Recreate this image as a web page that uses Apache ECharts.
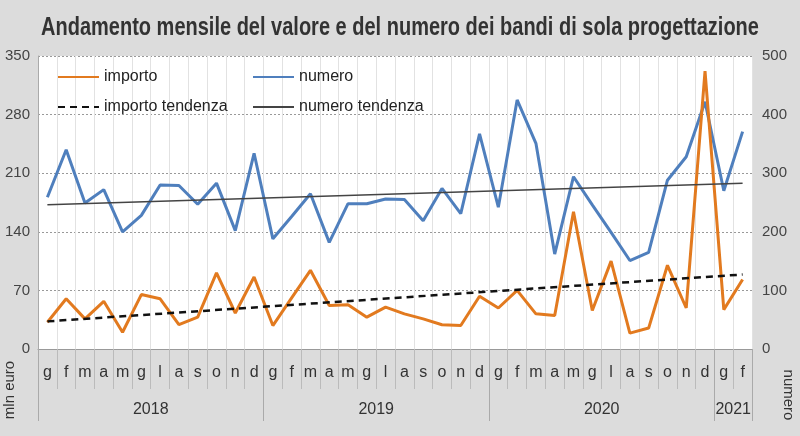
<!DOCTYPE html>
<html>
<head>
<meta charset="utf-8">
<script src="https://cdn.jsdelivr.net/npm/echarts@6/dist/echarts.min.js"></script>
<style>
html,body{margin:0;padding:0;background:#dcdcdc;}
#c{width:800px;height:436px;}
</style>
</head>
<body>
<div id="c"></div>
<script>
const months = ['g','f','m','a','m','g','l','a','s','o','n','d',
                'g','f','m','a','m','g','l','a','s','o','n','d',
                'g','f','m','a','m','g','l','a','s','o','n','d',
                'g','f'];
const years = ['2018','2019','2020','2021'];
const yearCenters = [6, 18, 30, 37];
const yearBounds = [0, 12, 24, 36, 38];
const leftTicks = [0, 70, 140, 210, 280, 350];
const rightTicks = [0, 100, 200, 300, 400, 500];

const importo = [32,60,36,57,20,65,60,29,38,91,43,86,
                 28,61,94,52,53,38,50,42,36,29,28,63,
                 49,70,42,40,164,46,105,19,25,100,49,332,
                 47,83];
const numero = [259,340,249,272,200,228,280,279,247,283,202,334,
                188,226,265,182,248,248,256,255,219,274,231,367,
                242,425,351,162,294,246,199,151,165,288,328,422,
                270,371];
const importoTrend = [33,null,null,null,null,null,null,null,null,null,null,null,
                      null,null,null,null,null,null,null,null,null,null,null,null,
                      null,null,null,null,null,null,null,null,null,null,null,null,
                      null,89];
const numeroTrend = [246,null,null,null,null,null,null,null,null,null,null,null,
                     null,null,null,null,null,null,null,null,null,null,null,null,
                     null,null,null,null,null,null,null,null,null,null,null,null,
                     null,283];

const FONT = '"Liberation Sans", Arial, sans-serif';
const chart = echarts.init(document.getElementById('c'));
const legendText = {fontFamily: FONT, fontSize: 16, color: '#222'};
const legendBase = {itemWidth: 41, itemHeight: 14, itemGap: 5, textStyle: legendText, itemStyle: {opacity: 0}};
chart.setOption({
  backgroundColor: '#dcdcdc',
  animation: false,
  legend: [
    Object.assign({data: ['importo'], left: 52, top: 64}, legendBase),
    Object.assign({data: ['numero'], left: 247, top: 64}, legendBase),
    Object.assign({data: ['importo tendenza'], left: 52, top: 94}, legendBase),
    Object.assign({data: ['numero tendenza'], left: 247, top: 94}, legendBase)
  ],
  grid: {left: 38, right: 48, top: 56, bottom: 87, show: true, backgroundColor: '#ffffff', borderWidth: 0},
  xAxis: [
    {
      type: 'category', data: months, boundaryGap: true, position: 'bottom',
      axisLine: {show: true, lineStyle: {color: '#999', width: 1}},
      axisTick: {show: true, interval: 0, length: 40, lineStyle: {color: '#bbb'}},
      axisLabel: {interval: 0, margin: 16, fontFamily: FONT, fontSize: 16, color: '#333'},
      splitLine: {show: true, interval: 0, lineStyle: {color: '#e2e2e2', width: 1}}
    },
    {
      type: 'value', min: 0, max: 38, position: 'bottom', gridIndex: 0,
      axisLine: {show: false},
      axisTick: {show: true, customValues: yearBounds, length: 72, lineStyle: {color: '#aaa'}},
      axisLabel: {show: true, customValues: yearCenters, margin: 53, fontFamily: FONT, fontSize: 16, color: '#333',
        formatter: function (v) { const k = yearCenters.indexOf(v); return k >= 0 ? years[k] : ''; }},
      splitLine: {show: false}
    }
  ],
  yAxis: [
    {
      type: 'value', min: 0, max: 350, interval: 70, position: 'left',
      axisLine: {show: true, lineStyle: {color: '#aaa'}},
      axisTick: {show: false},
      axisLabel: {margin: 8, fontFamily: FONT, fontSize: 15, color: '#444', customValues: leftTicks},
      splitLine: {show: true, lineStyle: {color: '#999', type: [2, 2], width: 1}}
    },
    {
      type: 'value', min: 0, max: 500, interval: 100, position: 'right',
      axisLine: {show: false},
      axisTick: {show: false},
      axisLabel: {margin: 10, fontFamily: FONT, fontSize: 15, color: '#444', customValues: rightTicks},
      splitLine: {show: false}
    }
  ],
  graphic: [
    {type: 'text', x: 400, y: 28, scaleX: 0.8,
      style: {text: 'Andamento mensile del valore e del numero dei bandi di sola progettazione',
        fontFamily: FONT, fontSize: 25, fontWeight: 'bold', fill: '#333', align: 'center', verticalAlign: 'middle'}},
    {type: 'text', x: 10, y: 390, rotation: Math.PI / 2,
      style: {text: 'mln euro', fontFamily: FONT, fontSize: 15, fill: '#333', align: 'center', verticalAlign: 'middle'}},
    {type: 'text', x: 788, y: 395, rotation: -Math.PI / 2,
      style: {text: 'numero', fontFamily: FONT, fontSize: 15, fill: '#333', align: 'center', verticalAlign: 'middle'}}
  ],
  series: [
    {name: 'importo', type: 'line', data: importo, yAxisIndex: 0, symbol: 'none',
      lineStyle: {color: '#e27a1f', width: 3}, itemStyle: {color: '#e27a1f'}, z: 4},
    {name: 'numero', type: 'line', data: numero, yAxisIndex: 1, symbol: 'none',
      lineStyle: {color: '#4f7fbd', width: 3}, itemStyle: {color: '#4f7fbd'}, z: 3},
    {name: 'importo tendenza', type: 'line', data: importoTrend, yAxisIndex: 0, symbol: 'none', connectNulls: true,
      lineStyle: {color: '#111', width: 2.5, type: [7, 5]}, itemStyle: {color: '#111'}, z: 5},
    {name: 'numero tendenza', type: 'line', data: numeroTrend, yAxisIndex: 1, symbol: 'none', connectNulls: true,
      lineStyle: {color: '#444', width: 1.5}, itemStyle: {color: '#444'}, z: 5}
  ]
});
</script>
</body>
</html>
